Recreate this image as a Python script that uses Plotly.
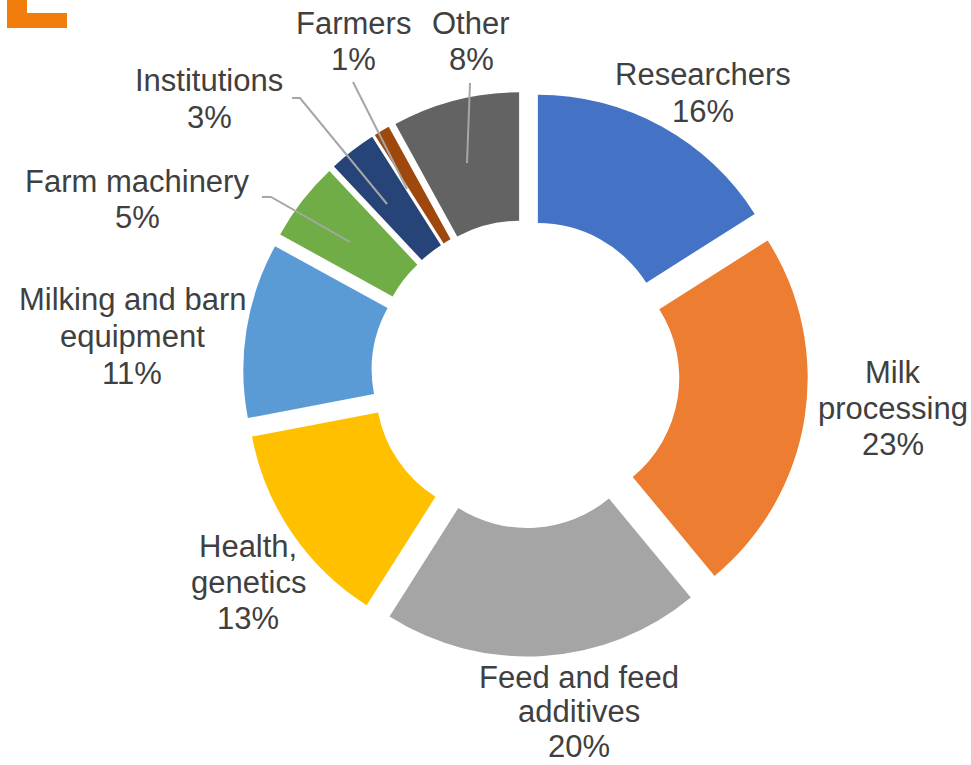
import plotly.graph_objects as go

# ---- data ----
categories = ["Researchers", "Milk processing", "Feed and feed additives", "Health, genetics",
              "Milking and barn equipment", "Farm machinery", "Institutions", "Farmers", "Other"]
label_lines = [["Researchers"], ["Milk", "processing"], ["Feed and feed", "additives"], ["Health,", "genetics"],
               ["Milking and barn", "equipment"], ["Farm machinery"], ["Institutions"], ["Farmers"], ["Other"]]
shares = [16, 23, 20, 13, 11, 5, 3, 1, 8]
colors = ["#4472C4", "#ED7D31", "#A5A5A5", "#FFC000", "#5B9BD5", "#70AD47", "#264478", "#9E480E", "#636363"]

W, H = 971, 765

# label positions: (centre x, first line centre y, line gap) in pixels from top-left
label_pos = [(703, 75, 36.5), (893, 372, 36), (579, 677, 34.5), (248, 546, 36), (132, 300, 36.5),
             (137, 181, 36.5), (209, 81, 36.5), (353, 23, 37), (471, 23, 37)]

# leader lines (pixel coords)
leaders = [
    [(262, 197), (271, 197), (350, 242)],
    [(292, 98), (300, 98), (387, 204)],
    [(353, 82), (407, 189)],
    [(470, 83), (467, 163)],
]

def px(x):
    return x / W

def py(y):
    return 1 - y / H

cx, cy, ext = 525.5, 374.0, 282.5

fig = go.Figure(go.Pie(
    labels=categories,
    values=shares,
    sort=False,
    direction="clockwise",
    rotation=0,
    hole=0.5,
    pull=[0.1] * len(shares),
    marker=dict(colors=colors, line=dict(width=0)),
    textinfo="none",
    hoverinfo="label+percent",
    showlegend=False,
    domain=dict(x=[px(cx - ext), px(cx + ext)], y=[py(cy + ext), py(cy - ext)]),
))

total = sum(shares)
font = dict(family="Liberation Sans, Arial, sans-serif", size=31, color="#404040")
annotations = []
for lines, v, (x, y, gap) in zip(label_lines, shares, label_pos):
    all_lines = lines + [f"{round(v / total * 100)}%"]
    for i, t in enumerate(all_lines):
        annotations.append(dict(
            x=px(x), y=py(y + i * gap), xref="paper", yref="paper",
            text=t, showarrow=False, xanchor="center", yanchor="middle", align="center",
            font=font,
        ))

shapes = []
for pts in leaders:
    path = "M " + " L ".join(f"{px(x)} {py(y)}" for x, y in pts)
    shapes.append(dict(type="path", xref="paper", yref="paper", path=path,
                       line=dict(color="#A6A6A6", width=2)))

# orange corner mark (top-left)
shapes.append(dict(type="path", xref="paper", yref="paper",
                   path=f"M {px(7)} {py(0)} L {px(27)} {py(0)} L {px(27)} {py(13)} L {px(67)} {py(13)} "
                        f"L {px(67)} {py(28)} L {px(7)} {py(28)} Z",
                   fillcolor="#F07D0C", line=dict(width=0)))

fig.update_layout(
    width=W, height=H,
    margin=dict(l=0, r=0, t=0, b=0),
    paper_bgcolor="white", plot_bgcolor="white",
    annotations=annotations, shapes=shapes,
)

fig.write_html("out.html", config={"displayModeBar": False},
               post_script="document.body.style.margin='0';document.body.style.overflow='hidden';")
